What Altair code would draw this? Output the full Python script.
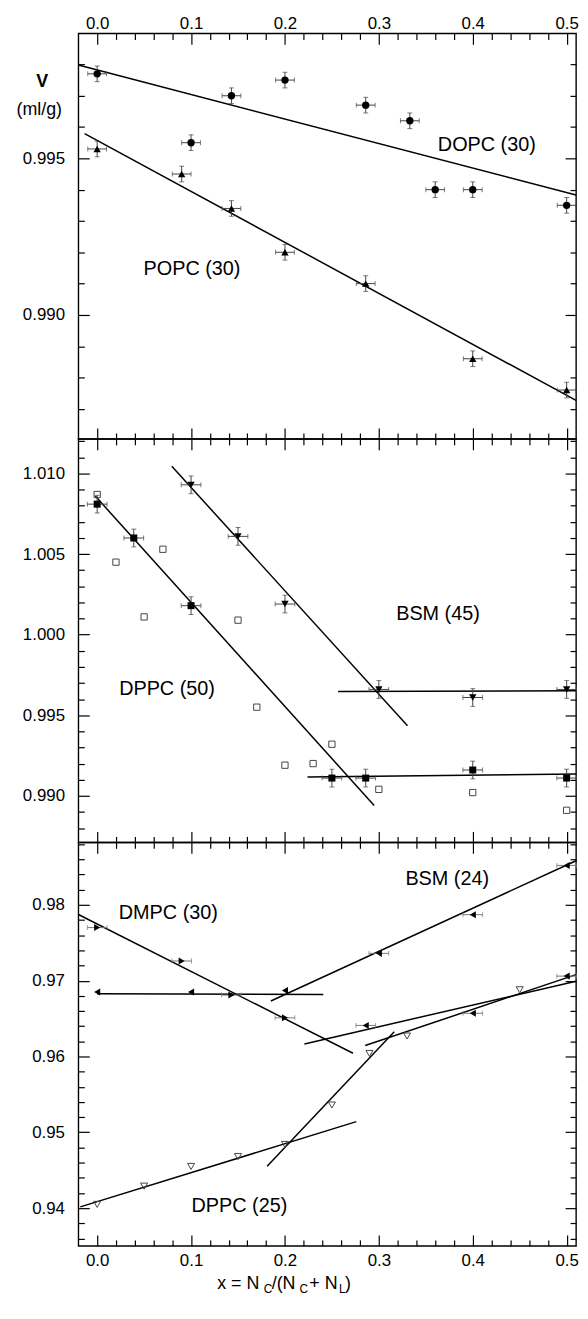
import altair as alt
import pandas as pd

FONT = "Liberation Sans"
W = 502
HEIGHTS = [409, 407, 407]
XDOM = [-0.02, 0.51]
YDOMS = [[0.98604, 0.99899], [0.98711, 1.01215], [0.93503, 0.98824]]
MAJOR_LEN, MINOR_LEN = 11, 6

# ---------------- tick / label values ----------------
X_MAJOR = [0.0, 0.1, 0.2, 0.3, 0.4, 0.5]
X_MINOR = [0.02, 0.04, 0.06, 0.08, 0.12, 0.14, 0.16, 0.18, 0.22, 0.24, 0.26,
           0.28, 0.32, 0.34, 0.36, 0.38, 0.42, 0.44, 0.46, 0.48]
Y1_MAJOR = [0.990, 0.995]
Y1_MINOR = [0.987, 0.988, 0.989, 0.991, 0.992, 0.993, 0.994, 0.996, 0.997, 0.998]
Y2_MAJOR = [0.990, 0.995, 1.000, 1.005, 1.010]
Y2_MINOR = [0.988, 0.989, 0.991, 0.992, 0.993, 0.994, 0.996, 0.997, 0.998, 0.999,
            1.001, 1.002, 1.003, 1.004, 1.006, 1.007, 1.008, 1.009, 1.011, 1.012]
Y3_MAJOR = [0.94, 0.95, 0.96, 0.97, 0.98]
Y3_MINOR = [0.936, 0.938, 0.942, 0.944, 0.946, 0.948, 0.952, 0.954, 0.956, 0.958,
            0.962, 0.964, 0.966, 0.968, 0.972, 0.974, 0.976, 0.978, 0.982,
            0.984, 0.986, 0.988]

# ---------------- panel 1 data ----------------
dopc_x = [0.0, 0.1, 0.143, 0.2, 0.286, 0.333, 0.36, 0.4, 0.5]
dopc_y = [0.9977, 0.9955, 0.9970, 0.9975, 0.9967, 0.9962, 0.9940, 0.9940, 0.9935]
popc_x = [0.0, 0.09, 0.143, 0.2, 0.286, 0.4, 0.5]
popc_y = [0.9953, 0.9945, 0.9934, 0.9920, 0.9910, 0.9886, 0.9876]
p1_err_x, p1_err_y = 0.01, 0.00025
p1_seg_x1 = [-0.02, -0.0134]
p1_seg_y1 = [0.99798, 0.99579]
p1_seg_x2 = [0.51, 0.51]
p1_seg_y2 = [0.99383, 0.98727]
p1_lab = ["DOPC (30)", "POPC (30)"]
p1_lab_x = [0.415, 0.101]
p1_lab_y = [0.99542, 0.99146]

# ---------------- panel 2 data ----------------
dppc50_x = [0.0, 0.039, 0.1, 0.25, 0.286, 0.4, 0.5]
dppc50_y = [1.0081, 1.0060, 1.0018, 0.9911, 0.9911, 0.9916, 0.9911]
bsm45_x = [0.1, 0.15, 0.2, 0.3, 0.4, 0.5]
bsm45_y = [1.0093, 1.0061, 1.0019, 0.9966, 0.9961, 0.9966]
osq_x = [0.0, 0.02, 0.05, 0.07, 0.15, 0.17, 0.2, 0.23, 0.25, 0.3, 0.4, 0.5]
osq_y = [1.0087, 1.0045, 1.0011, 1.0053, 1.0009, 0.9955, 0.9919, 0.9920, 0.9932, 0.9904, 0.9902, 0.9891]
p2_err_x, p2_err_y = 0.0105, 0.00055
p2_seg_x1 = [-0.002, 0.0795, 0.2566, 0.224]
p2_seg_y1 = [1.0086, 1.01045, 0.99648, 0.99117]
p2_seg_x2 = [0.295, 0.3305, 0.51, 0.51]
p2_seg_y2 = [0.9894, 0.99435, 0.99652, 0.99135]
p2_lab = ["DPPC (50)", "BSM (45)"]
p2_lab_x = [0.0744, 0.363]
p2_lab_y = [0.99665, 1.00126]

# ---------------- panel 3 data ----------------
dmpc_dec_x = [0.0, 0.09, 0.143, 0.2]
dmpc_dec_y = [0.9770, 0.9726, 0.9681, 0.9651]
dmpc_flat_x = [0.0, 0.1, 0.2]
dmpc_flat_y = [0.9685, 0.9685, 0.9687]
bsm24_up_x = [0.3, 0.4, 0.5]
bsm24_up_y = [0.9736, 0.9787, 0.9852]
bsm24_lo_x = [0.286, 0.4, 0.5]
bsm24_lo_y = [0.9641, 0.9657, 0.9706]
dppc25_x = [0.0, 0.05, 0.1, 0.15, 0.2, 0.25, 0.29, 0.33, 0.45]
dppc25_y = [0.9405, 0.9429, 0.9455, 0.9468, 0.9484, 0.9536, 0.9604, 0.9627, 0.9688]
p3_err_x = 0.0105
p3_seg_x1 = [-0.02, 0.0, 0.185, 0.2207, -0.018, 0.181, 0.2855]
p3_seg_y1 = [0.97873, 0.96828, 0.96732, 0.96166, 0.94017, 0.94553, 0.96144]
p3_seg_x2 = [0.2725, 0.2408, 0.51, 0.51, 0.276, 0.3164, 0.51]
p3_seg_y2 = [0.96043, 0.96818, 0.98582, 0.96993, 0.95141, 0.96327, 0.97080]
p3_lab = ["DMPC (30)", "BSM (24)", "DPPC (25)"]
p3_lab_x = [0.0758, 0.3728, 0.1515]
p3_lab_y = [0.9789, 0.98344, 0.9403]

# x-axis title pieces (main text and subscripts)
title_main = ["x = N", "/(N", "+ N", ")"]
title_main_px = [140, 195, 233, 269]
title_sub = ["C", "C", "L"]
title_sub_px = [187, 223, 263]


def xenc(field, axis=None):
    return alt.X(field, type="quantitative",
                 scale=alt.Scale(domain=XDOM, nice=False, zero=False), axis=axis)


def yenc(field, dom, axis=None):
    return alt.Y(field, type="quantitative",
                 scale=alt.Scale(domain=dom, nice=False, zero=False), axis=axis)


def points(xs, ys, dom, shape, filled, color, size):
    df = pd.DataFrame({"x": xs, "y": ys})
    if filled:
        m = alt.Chart(df).mark_point(shape=shape, filled=True, color=color, size=size, opacity=1)
    else:
        m = alt.Chart(df).mark_point(shape=shape, filled=False, color=color, size=size,
                                     opacity=1, strokeWidth=1)
    return m.encode(x=xenc("x"), y=yenc("y", dom))


def errbars(xs, ys, dom, xerr, yerr, color):
    df = pd.DataFrame({"x": xs, "y": ys})
    df["xlo"] = df["x"] - xerr
    df["xhi"] = df["x"] + xerr
    out = [alt.Chart(df).mark_errorbar(color=color, thickness=1, size=5, ticks=True)
           .encode(x=xenc("xlo"), x2="xhi", y=yenc("y", dom))]
    if yerr:
        df["ylo"] = df["y"] - yerr
        df["yhi"] = df["y"] + yerr
        out.append(alt.Chart(df).mark_errorbar(color=color, thickness=1, size=5, ticks=True)
                   .encode(x=xenc("x"), y=yenc("ylo", dom), y2="yhi"))
    return out


def segments(x1, y1, x2, y2, dom, width=1.5):
    df = pd.DataFrame({"x1": x1, "y1": y1, "x2": x2, "y2": y2})
    return alt.Chart(df).mark_rule(color="black", strokeWidth=width).encode(
        x=xenc("x1"), y=yenc("y1", dom), x2="x2", y2="y2")


def labels(xs, ys, texts, dom):
    df = pd.DataFrame({"x": xs, "y": ys, "t": texts})
    return alt.Chart(df).mark_text(font=FONT, fontSize=20, color="black",
                                   align="center", baseline="middle").encode(
        x=xenc("x"), y=yenc("y", dom), text="t:N")


def in_axis(orient, values, size):
    # a plain axis pulled inside the frame by its own tick length, so ticks point inward
    return alt.Axis(orient=orient, values=values, labels=False, domain=False, grid=False,
                    ticks=True, tickSize=size, tickWidth=1.2, tickColor="black",
                    offset=-size, minExtent=0, title=None)


def axis_layers(dom, ymajor, yminor, yfmt, xlab_orient, first=False):
    df = pd.DataFrame({"ax": [0.25], "ay": [(dom[0] + dom[1]) / 2]})
    base = alt.Chart(df).mark_point(opacity=0)
    pairs = [
        (in_axis("top", X_MAJOR, MAJOR_LEN), in_axis("left", ymajor, MAJOR_LEN)),
        (in_axis("top", X_MINOR, MINOR_LEN), in_axis("left", yminor, MINOR_LEN)),
        (in_axis("bottom", X_MAJOR, MAJOR_LEN), in_axis("right", ymajor, MAJOR_LEN)),
        (in_axis("bottom", X_MINOR, MINOR_LEN), in_axis("right", yminor, MINOR_LEN)),
    ]
    out = [base.encode(x=xenc("ax", xa), y=yenc("ay", dom, ya)) for xa, ya in pairs]
    ylab = dict(orient="left", values=ymajor, format=yfmt, ticks=False, domain=False,
                grid=False, labelFont=FONT, labelFontSize=17, labelColor="black",
                labelPadding=14, title=None)
    if first:
        ylab.update(title="(ml/g)", titleAngle=0, titleX=-40, titleY=77, titleFont=FONT,
                    titleFontSize=18, titleFontWeight="normal", titleAlign="center",
                    titleBaseline="middle", titleColor="black")
    if xlab_orient:
        xlab = alt.Axis(orient=xlab_orient, values=X_MAJOR, format=".1f", ticks=False,
                        domain=False, grid=False, labelFont=FONT, labelFontSize=17,
                        labelColor="black", labelFlush=False, labelOverlap=False,
                        labelPadding=1 if xlab_orient == "top" else 7, title=None)
        out.append(base.encode(x=xenc("ax", xlab), y=yenc("ay", dom, alt.Axis(**ylab))))
    else:
        out.append(base.encode(x=xenc("ax"), y=yenc("ay", dom, alt.Axis(**ylab))))
    if first:
        vax = alt.Axis(orient="left", ticks=False, labels=False, domain=False, grid=False,
                       title="V", titleAngle=0, titleX=-37, titleY=49, titleFont=FONT,
                       titleFontSize=18, titleFontWeight="bold", titleAlign="center",
                       titleBaseline="middle", titleColor="black")
        out.append(base.encode(x=xenc("ax"), y=yenc("ay", dom, vax)))
    return out


# ---------------- panel 1 ----------------
d1 = YDOMS[0]
layers1 = axis_layers(d1, Y1_MAJOR, Y1_MINOR, ".3f", "top", first=True)
layers1 += [segments(p1_seg_x1, p1_seg_y1, p1_seg_x2, p1_seg_y2, d1)]
layers1 += errbars(dopc_x, dopc_y, d1, p1_err_x, p1_err_y, "#444444")
layers1 += errbars(popc_x, popc_y, d1, p1_err_x, p1_err_y, "#444444")
layers1 += [points(dopc_x, dopc_y, d1, "circle", True, "black", 55),
            points(popc_x, popc_y, d1, "triangle-up", True, "black", 55),
            labels(p1_lab_x, p1_lab_y, p1_lab, d1)]
panel1 = alt.layer(*layers1).resolve_scale(x="independent", y="independent").properties(
    width=W, height=HEIGHTS[0])

# ---------------- panel 2 ----------------
d2 = YDOMS[1]
layers2 = axis_layers(d2, Y2_MAJOR, Y2_MINOR, ".3f", None)
layers2 += [segments(p2_seg_x1, p2_seg_y1, p2_seg_x2, p2_seg_y2, d2)]
layers2 += errbars(dppc50_x, dppc50_y, d2, p2_err_x, p2_err_y, "#444444")
layers2 += errbars(bsm45_x, bsm45_y, d2, p2_err_x, p2_err_y, "#444444")
layers2 += [points(osq_x, osq_y, d2, "square", False, "#444444", 40),
            points(dppc50_x, dppc50_y, d2, "square", True, "black", 50),
            points(bsm45_x, bsm45_y, d2, "triangle-down", True, "black", 55),
            labels(p2_lab_x, p2_lab_y, p2_lab, d2)]
panel2 = alt.layer(*layers2).resolve_scale(x="independent", y="independent").properties(
    width=W, height=HEIGHTS[1])

# ---------------- panel 3 ----------------
d3 = YDOMS[2]
layers3 = axis_layers(d3, Y3_MAJOR, Y3_MINOR, ".2f", "bottom")
layers3 += [segments(p3_seg_x1, p3_seg_y1, p3_seg_x2, p3_seg_y2, d3)]
layers3 += errbars(dmpc_dec_x, dmpc_dec_y, d3, p3_err_x, 0, "#777777")
layers3 += errbars(bsm24_up_x, bsm24_up_y, d3, p3_err_x, 0, "#777777")
layers3 += errbars(bsm24_lo_x, bsm24_lo_y, d3, p3_err_x, 0, "#777777")
layers3 += [points(dppc25_x, dppc25_y, d3, "triangle-down", False, "#444444", 50),
            points(dmpc_dec_x, dmpc_dec_y, d3, "triangle-right", True, "black", 50),
            points(dmpc_flat_x, dmpc_flat_y, d3, "triangle-left", True, "black", 50),
            points(bsm24_up_x, bsm24_up_y, d3, "triangle-left", True, "black", 50),
            points(bsm24_lo_x, bsm24_lo_y, d3, "triangle-left", True, "black", 50),
            labels(p3_lab_x, p3_lab_y, p3_lab, d3)]
tmain = pd.DataFrame({"px": title_main_px, "t": title_main})
tsub = pd.DataFrame({"px": title_sub_px, "t": title_sub})
layers3 += [
    alt.Chart(tmain).mark_text(font=FONT, fontSize=18, align="left", baseline="alphabetic",
                               color="black").encode(
        x=alt.X("px:Q", scale=None, axis=None), y=alt.value(451), text="t:N"),
    alt.Chart(tsub).mark_text(font=FONT, fontSize=12, align="left", baseline="alphabetic",
                              color="black").encode(
        x=alt.X("px:Q", scale=None, axis=None), y=alt.value(455), text="t:N"),
]
panel3 = alt.layer(*layers3).resolve_scale(x="independent", y="independent").properties(
    width=W, height=HEIGHTS[2])

chart = alt.vconcat(panel1, panel2, panel3, spacing=0, bounds="flush").properties(
    padding={"left": 7, "top": 0, "right": 0, "bottom": 0}
).configure_view(stroke="black", strokeWidth=1.4).configure_axis(
    labelFont=FONT, titleFont=FONT)

chart.save("out.html", embed_options={"renderer": "svg", "actions": False})
